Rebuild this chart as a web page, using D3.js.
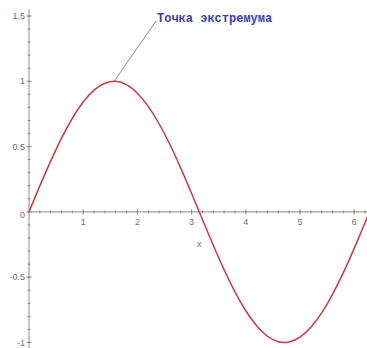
<!DOCTYPE html>
<html>
<head>
<meta charset="utf-8">
<script src="https://cdn.jsdelivr.net/npm/d3@7"></script>
<style>
  html, body { margin: 0; padding: 0; background: #fff; }
  svg { display: block; }
</style>
</head>
<body>
<svg id="chart" width="367" height="348"></svg>
<script>
// Sampled curve: y = sin(x) read at steps of 0.2
const xs = [0, 0.2, 0.4, 0.6, 0.8, 1.0, 1.2, 1.4, 1.6, 1.8, 2.0, 2.2, 2.4, 2.6, 2.8, 3.0,
            3.2, 3.4, 3.6, 3.8, 4.0, 4.2, 4.4, 4.6, 4.8, 5.0, 5.2, 5.4, 5.6, 5.8, 6.0, 6.2, 6.4];
const ys = [0, 0.199, 0.389, 0.565, 0.717, 0.841, 0.932, 0.985, 1.000, 0.974, 0.909, 0.808, 0.675, 0.516, 0.335, 0.141,
            -0.058, -0.256, -0.443, -0.612, -0.757, -0.872, -0.952, -0.994, -0.996, -0.959, -0.883, -0.773, -0.631, -0.465, -0.279, -0.083, 0.117];

const xTicks = [1, 2, 3, 4, 5, 6];
const yTicks = [-1, -0.5, 0, 0.5, 1, 1.5];
const yTickLabels = ["-1", "-0.5", "0", "0.5", "1", "1.5"];

const peak = { x: 1.57, y: 1.0, label: "Точка экстремума" };
const axisName = "x";

const svg = d3.select("#chart");
const W = 367, H = 348;

const x = d3.scaleLinear().domain([0, 6.236]).range([29, 367]);
const y = d3.scaleLinear().domain([-1, 1.5]).range([342.5, 16]);

const axisColor = "#8a8a8a";
const labelColor = "#6e6e6e";

// Horizontal axis through y = 0
const gx = svg.append("g").attr("transform", `translate(0,${y(0)})`);
gx.append("line").attr("x1", x(0)).attr("x2", W).attr("stroke", axisColor).attr("stroke-width", 1);
const xMinor = d3.range(0.2, 6.25, 0.2);
gx.selectAll("line.minor").data(xMinor).join("line")
  .attr("class", "minor")
  .attr("x1", d => x(d)).attr("x2", d => x(d))
  .attr("y1", -1.5).attr("y2", 1.5)
  .attr("stroke", axisColor);
gx.selectAll("line.major").data(xTicks).join("line")
  .attr("class", "major")
  .attr("x1", d => x(d)).attr("x2", d => x(d))
  .attr("y1", -2.5).attr("y2", 2.5)
  .attr("stroke", axisColor);
gx.selectAll("text").data(xTicks).join("text")
  .attr("x", d => x(d)).attr("y", 13)
  .attr("text-anchor", "middle")
  .attr("font-family", "Arial, 'Liberation Sans', sans-serif")
  .attr("font-size", 9)
  .attr("fill", labelColor)
  .text(d => d);

// Vertical axis through x = 0
const gy = svg.append("g").attr("transform", `translate(${x(0)},0)`);
gy.append("line").attr("y1", y(1.55)).attr("y2", H).attr("stroke", axisColor).attr("stroke-width", 1);
const yMinor = d3.range(-1, 1.55, 0.1);
gy.selectAll("line.minor").data(yMinor).join("line")
  .attr("class", "minor")
  .attr("y1", d => y(d)).attr("y2", d => y(d))
  .attr("x1", -1.5).attr("x2", 1.5)
  .attr("stroke", axisColor);
gy.selectAll("line.major").data(yTicks).join("line")
  .attr("class", "major")
  .attr("y1", d => y(d)).attr("y2", d => y(d))
  .attr("x1", -2.5).attr("x2", 2.5)
  .attr("stroke", axisColor);
gy.selectAll("text").data(yTicks).join("text")
  .attr("x", -4)
  .attr("y", d => y(d) + (d === 0 ? 6 : 3))
  .attr("text-anchor", "end")
  .attr("font-family", "Arial, 'Liberation Sans', sans-serif")
  .attr("font-size", 9)
  .attr("fill", labelColor)
  .text((d, i) => yTickLabels[i]);

// Axis name
svg.append("text")
  .attr("x", x(3.14)).attr("y", y(-0.27))
  .attr("text-anchor", "middle")
  .attr("font-family", "Arial, 'Liberation Sans', sans-serif")
  .attr("font-size", 9)
  .attr("fill", labelColor)
  .text(axisName);

// Curve
const pts = xs.map((v, i) => [v, ys[i]]);
const line = d3.line().x(d => x(d[0])).y(d => y(d[1])).curve(d3.curveNatural);
svg.append("path")
  .datum(pts)
  .attr("d", line)
  .attr("fill", "none")
  .attr("stroke", "#c83c3c")
  .attr("stroke-width", 1.5);

// Annotation of the maximum
const labelX = 157, labelY = 22;
svg.append("line")
  .attr("x1", x(peak.x)).attr("y1", y(peak.y))
  .attr("x2", labelX - 1).attr("y2", labelY - 1)
  .attr("stroke", "#8c8c8c").attr("stroke-width", 1);
svg.append("text")
  .attr("x", labelX).attr("y", labelY)
  .attr("font-family", "'Liberation Mono', 'Courier New', monospace")
  .attr("font-weight", "bold")
  .attr("font-size", 12)
  .attr("fill", "#3c3cb4")
  .text(peak.label);
</script>
</body>
</html>
